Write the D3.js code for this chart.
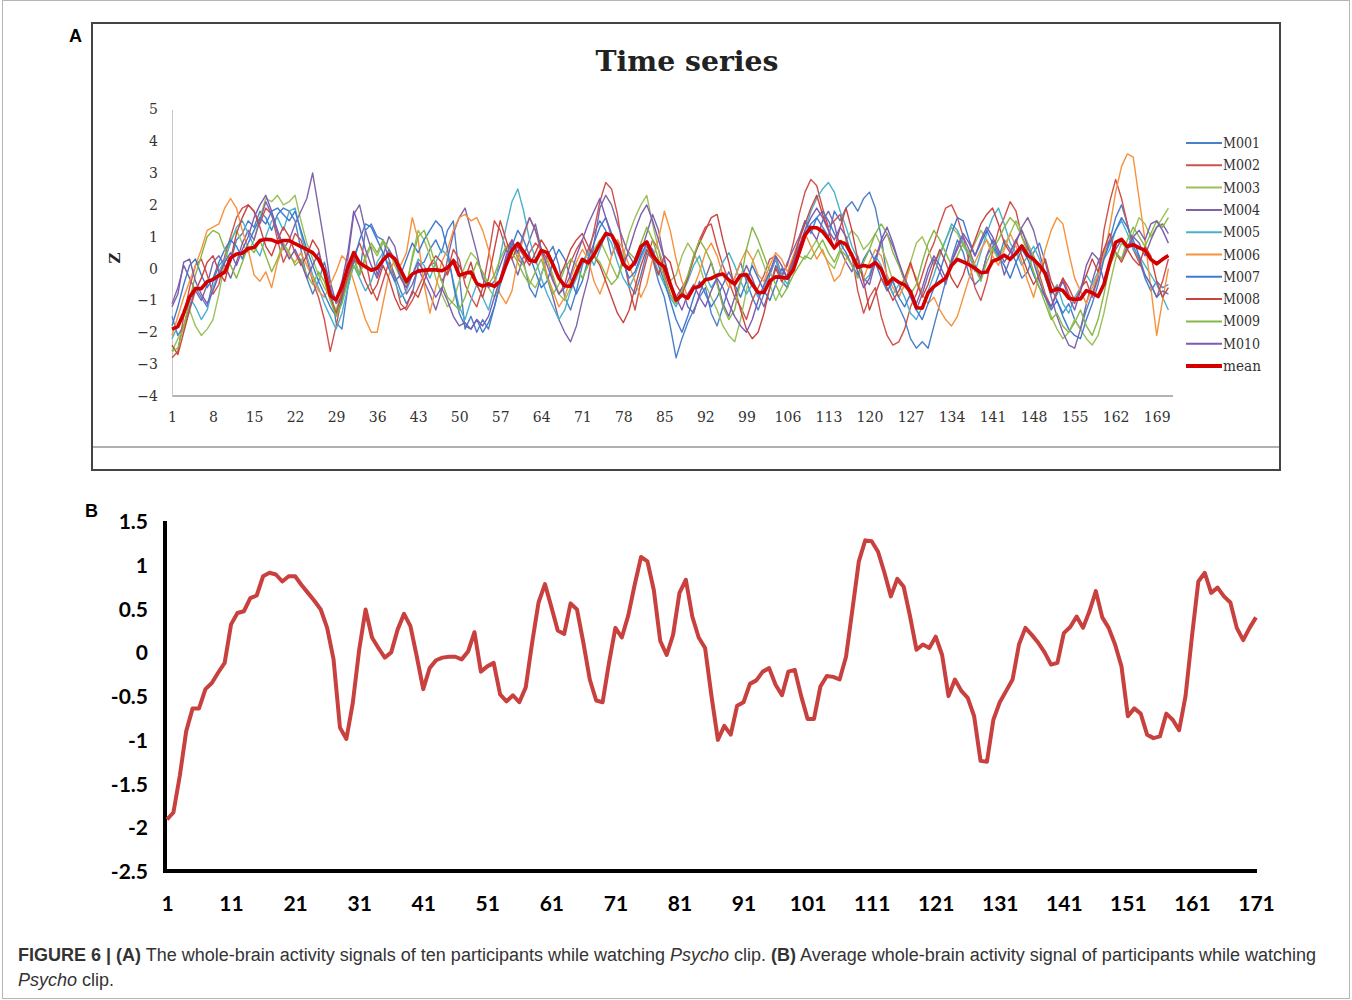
<!DOCTYPE html>
<html>
<head>
<meta charset="utf-8">
<script src="https://cdn.jsdelivr.net/npm/d3@7"></script>
<style>
  body { margin: 0; background: #fff; }
</style>
</head>
<body>
<div id="chart"></div>
<script>

// ---- data ----

var timePoints = d3.range(1, 172);

// average signal (panel B, also the "mean" line in panel A)
var meanSignal = [
  -1.9,-1.82,-1.4,-0.89,-0.63,-0.63,-0.41,-0.34,-0.22,-0.11,
  0.33,0.46,0.48,0.63,0.66,0.88,0.92,0.90,0.82,0.88,
  0.88,0.78,0.69,0.60,0.50,0.29,-0.07,-0.85,-0.98,-0.57,
  0.04,0.50,0.18,0.06,-0.05,0.01,0.27,0.45,0.31,-0.04,
  -0.41,-0.17,-0.08,-0.05,-0.04,-0.04,-0.07,0.02,0.24,-0.21,
  -0.15,-0.11,-0.47,-0.55,-0.48,-0.56,-0.39,0.12,0.58,0.79,
  0.53,0.26,0.22,0.57,0.50,0.12,-0.30,-0.54,-0.56,-0.11,
  0.29,0.18,0.43,0.78,1.10,1.05,0.72,0.14,-0.02,0.21,
  0.69,0.84,0.42,0.18,0.06,-0.49,-0.99,-0.83,-0.93,-0.60,
  -0.56,-0.35,-0.31,-0.21,-0.17,-0.36,-0.48,-0.21,-0.19,-0.49,
  -0.75,-0.75,-0.38,-0.26,-0.27,-0.30,-0.04,0.50,1.05,1.29,
  1.28,1.16,0.92,0.65,0.85,0.76,0.42,0.04,0.10,0.06,
  0.19,-0.02,-0.49,-0.30,-0.43,-0.51,-0.72,-1.23,-1.24,-0.76,
  -0.56,-0.43,-0.30,0.10,0.29,0.21,0.12,0.01,-0.13,-0.11,
  0.23,0.30,0.42,0.29,0.48,0.71,0.41,0.29,0.10,-0.15,
  -0.72,-0.63,-0.69,-0.93,-0.97,-0.95,-0.69,-0.76,-0.88,-0.49,
  0.19,0.82,0.92,0.69,0.75,0.65,0.58,0.29,0.15,0.29,0.41
];

var m001 = [
  -1.5,-2.1,-1.8,-1.2,-0.6,-0.9,-1.2,-0.4,0.1,0.3,
  0.2,0.9,1.1,1.5,1.3,1.8,1.6,1.2,1.7,1.9,
  1.8,1.5,0.6,-0.3,-0.8,-0.4,0.2,-0.5,-1.7,-1.9,
  -0.6,0.3,-0.2,1.2,1.4,1.0,0.9,0.3,-0.2,-0.7,
  -1.1,-0.8,0.1,0.2,0.6,0.9,0.5,1.2,1.5,-0.2,
  -1.9,-1.5,-2.0,-1.6,-1.9,-1.2,-0.4,0.3,0.8,0.5,
  0.2,-0.6,-0.9,-0.2,0.4,0.7,0.1,-0.9,-1.3,-0.7,
  0.1,0.6,1.1,1.5,1.2,0.4,0.9,0.3,-0.5,-0.8,
  -0.2,0.5,0.3,-0.4,-0.9,-1.8,-2.8,-2.2,-1.7,-1.3,
  -0.9,-0.6,-1.4,-1.8,-1.2,-0.6,-0.3,0.2,-0.4,-0.9,
  -1.3,-0.8,-0.2,0.3,-0.4,-0.6,0.2,0.9,1.5,1.1,
  1.6,1.3,1.0,1.8,1.5,1.9,2.1,1.8,2.2,2.4,
  1.9,1.0,-0.3,-0.8,-1.2,-1.6,-2.2,-2.5,-2.3,-2.5,
  -1.8,-1.1,-0.4,0.3,0.9,0.5,-0.2,-0.5,-0.3,0.4,
  0.7,0.3,0.9,0.6,0.2,-0.3,-0.1,0.5,0.8,0.2,
  -0.6,-1.0,-1.4,-1.1,-1.6,-1.9,-1.3,-0.8,-0.2,0.4,
  0.9,1.6,2.0,1.4,0.7,0.3,-0.3,-0.7,-0.4,-0.6,-0.5
];

var m002 = [
  -2.8,-2.6,-1.5,-0.6,0.1,0.3,-0.2,-0.8,-0.5,0.4,
  1.0,1.6,1.9,2.0,1.8,1.4,1.9,1.7,0.9,0.2,
  0.6,1.1,0.9,0.3,-0.4,-0.9,-1.6,-2.6,-1.8,-0.9,
  -0.3,0.4,0.8,0.3,-0.6,-1.0,-0.4,0.2,-0.3,-1.1,
  -1.3,-1.0,-0.6,-0.2,0.1,0.2,-0.4,-0.1,0.6,0.3,
  -0.5,-0.9,-1.2,-0.6,0.4,1.5,1.2,0.6,0.9,0.3,
  0.1,0.5,0.8,0.6,0.3,-0.3,-0.8,-0.5,0.2,0.6,
  0.9,0.4,1.2,2.1,2.7,2.5,1.7,0.5,-0.6,-1.3,
  -0.4,0.3,0.9,0.6,-0.2,-0.8,-1.1,-0.6,-0.3,0.3,
  0.9,1.3,1.4,0.7,0.1,-0.4,-0.9,-1.2,-1.6,-1.0,
  -0.6,-0.2,0.3,0.4,-0.2,0.1,0.8,1.7,2.4,2.8,
  2.6,1.9,1.3,1.5,1.7,0.9,0.4,-0.7,-1.4,-0.9,
  -0.6,-1.5,-2.1,-2.4,-2.3,-1.9,-1.2,-0.8,-0.2,0.4,
  0.8,1.4,1.9,2.0,1.6,1.0,0.2,-0.6,-1.0,-0.4,
  0.5,1.2,1.6,2.1,1.8,1.0,0.6,0.4,-0.2,-0.8,
  -1.2,-0.7,-0.3,-0.8,-1.1,-0.6,-0.4,-0.9,-0.3,1.2,
  2.1,2.8,2.2,1.4,0.6,0.2,-0.2,-0.5,-0.9,-0.4,0.3
];

var m003 = [
  -2.6,-2.2,-1.9,-1.3,-1.8,-2.1,-1.9,-1.6,-0.8,0.2,
  0.9,1.2,0.8,0.5,0.9,1.6,2.2,2.1,2.3,2.0,
  2.1,2.3,1.5,0.8,0.3,-0.2,-0.6,-0.9,-1.3,-0.7,
  0.1,0.4,-0.2,0.3,0.7,0.4,0.8,0.6,0.1,-0.3,
  -0.6,0.4,1.2,0.9,0.4,-0.3,-0.8,-1.2,-1.0,-0.4,
  0.1,0.5,0.3,-0.2,-0.6,-0.9,-0.5,0.2,0.6,0.4,
  0.1,-0.4,-0.6,-0.2,0.3,-0.2,-0.8,-1.0,-0.6,-0.1,
  0.3,0.2,0.6,0.9,0.5,0.1,-0.3,0.4,1.1,1.6,
  2.0,2.3,1.4,0.6,0.1,-0.4,-0.2,0.4,0.8,0.5,
  0.1,-0.5,-0.9,-1.3,-1.8,-2.1,-2.3,-1.6,-0.7,0.2,
  0.6,0.1,-0.5,-1.0,-0.6,-0.2,0.1,0.4,0.3,0.6,
  0.9,0.5,0.2,0.0,0.5,0.9,1.2,1.0,0.6,0.8,
  1.1,0.7,0.2,-0.4,-0.9,-0.5,0.2,0.8,1.0,0.6,
  0.1,0.5,0.9,1.3,1.1,0.7,0.4,0.8,1.2,0.9,
  0.6,0.3,0.7,1.1,1.5,1.2,0.8,0.4,-0.3,-0.9,
  -1.5,-1.9,-2.2,-2.0,-1.6,-1.9,-2.2,-2.4,-2.1,-1.4,
  -0.5,0.3,0.8,0.6,1.1,1.6,1.4,1.0,1.3,1.6,1.9
];

var m004 = [
  -1.1,-0.6,0.1,-0.3,-0.7,-1.0,-0.5,0.2,0.4,0.1,
  -0.3,0.2,0.8,1.2,0.9,1.5,2.1,1.7,1.1,0.6,
  0.9,1.4,1.8,2.2,3.0,1.9,0.8,-0.4,-1.1,-0.9,
  0.3,1.7,2.0,1.2,0.6,-0.2,0.4,1.0,0.7,-0.1,
  -0.8,-0.5,0.0,-0.4,-0.8,-1.3,-0.7,0.3,1.1,1.6,
  1.9,1.2,0.5,-0.3,-0.6,-0.4,0.1,0.6,0.3,-0.2,
  0.4,0.9,1.4,0.6,-0.3,-0.9,-1.6,-2.0,-2.3,-1.8,
  -1.0,-0.3,0.8,1.9,2.3,2.0,1.4,0.9,0.4,0.1,
  0.5,1.1,1.7,1.2,0.3,-0.5,-0.9,-0.6,-1.2,-1.4,
  -0.8,-0.3,0.2,-0.4,-1.1,-1.5,-0.9,-0.4,0.1,-0.3,
  -0.8,-1.2,-0.6,0.1,-0.3,0.2,0.6,1.0,1.5,1.2,
  0.9,1.5,1.8,1.4,0.6,0.2,-0.1,0.4,-0.3,-0.5,
  0.2,0.8,1.1,0.7,0.2,-0.4,-0.9,-1.3,-0.8,-0.2,
  0.3,-0.1,-0.5,0.2,0.6,1.0,0.6,0.1,-0.3,0.4,
  0.9,0.5,-0.2,0.3,0.8,1.3,1.6,1.2,0.5,-0.2,
  -0.9,-1.5,-2.0,-2.4,-2.5,-1.9,-1.1,-0.4,0.2,0.6,
  0.9,0.5,0.3,0.7,1.0,0.8,0.4,0.9,1.3,1.4,1.1
];

var m005 = [
  -2.2,-1.8,-1.4,-0.9,-1.2,-1.6,-1.3,-0.6,-0.1,0.3,
  0.8,1.3,1.5,1.1,0.7,0.4,1.0,1.5,1.6,1.2,
  1.8,1.9,1.1,0.4,-0.2,-0.6,-1.1,-1.5,-1.9,-1.4,
  -0.6,0.1,-0.3,-0.7,-0.4,0.2,0.5,0.1,-0.4,-0.9,
  -0.7,-0.2,0.3,0.1,-0.3,0.2,0.6,0.4,-0.4,-1.2,
  -1.6,-1.0,-0.5,-0.9,-1.3,-0.6,0.4,1.3,2.1,2.5,
  1.8,0.9,0.3,-0.3,-0.8,-1.2,-1.6,-1.3,-0.7,-0.3,
  0.2,0.5,0.1,0.6,1.1,0.8,0.2,-0.3,-0.6,-0.2,
  0.3,0.7,0.4,-0.1,-0.5,-0.9,-1.2,-0.8,-0.4,0.1,
  0.4,-0.2,-0.6,-0.3,0.2,0.5,0.1,-0.4,-0.8,-0.5,
  -0.9,-0.6,-0.1,0.3,-0.2,-0.5,0.1,0.6,1.2,1.8,
  2.2,2.5,2.7,2.4,1.8,1.3,0.7,0.3,-0.4,-0.2,
  0.4,0.1,-0.4,-0.8,-0.5,-0.9,-1.4,-1.6,-1.2,-0.7,
  -0.2,0.4,0.9,1.4,1.2,0.8,0.4,-0.1,0.5,1.1,
  1.6,1.9,1.4,0.8,0.5,0.1,0.4,0.7,0.3,-0.3,
  -0.8,-0.5,-1.1,-1.4,-0.9,-0.6,-0.2,-0.5,-0.1,0.3,
  0.6,1.2,1.5,1.1,0.6,0.4,0.1,-0.2,-0.5,-0.9,-1.3
];

var m006 = [
  -2.1,-1.5,-0.9,-0.4,0.1,0.6,1.2,1.3,1.4,1.9,
  2.2,1.9,1.2,0.6,-0.2,-0.4,-0.1,-0.6,0.2,0.7,
  0.4,0.2,0.5,0.1,-0.3,-0.7,-0.9,-0.5,-0.1,0.4,
  0.2,-0.4,-1.0,-1.6,-2.0,-2.0,-1.1,-0.2,0.3,0.1,
  0.5,1.6,0.9,-0.5,-1.4,-0.6,0.2,0.6,1.2,1.6,
  1.7,1.5,1.6,1.2,0.6,-0.3,-0.8,-1.1,-0.7,0.3,
  1.0,1.6,1.2,0.5,-0.2,-0.7,-1.2,-0.9,-0.3,0.2,
  0.6,0.3,-0.4,-0.8,-0.3,0.4,0.9,0.6,0.1,-0.4,
  -0.9,-0.5,0.3,0.9,1.8,1.2,0.3,-0.4,-0.9,-0.6,
  -0.1,0.5,0.8,0.4,-0.2,-0.6,-0.3,0.2,0.6,0.3,
  -0.2,-0.4,0.1,0.5,0.3,-0.1,0.4,0.9,1.1,0.7,
  0.3,0.6,0.1,-0.4,-0.2,0.3,0.5,0.1,-0.3,0.2,
  0.6,0.4,-0.2,-0.6,-0.9,-0.5,0.1,-0.3,-0.8,-1.1,
  -0.9,-1.3,-1.6,-1.8,-1.5,-0.9,-0.3,0.2,0.6,0.9,
  0.4,0.1,0.6,1.1,0.7,0.2,-0.4,-0.9,-0.2,0.6,
  1.2,1.6,1.4,0.5,-0.3,-0.7,-1.1,-0.6,-0.2,0.4,
  1.3,2.4,3.2,3.6,3.5,2.2,0.9,-0.6,-2.1,-1.0,0.0
];

var m007 = [
  -1.8,-1.2,-0.5,0.1,0.3,-0.2,-0.6,-0.3,0.2,0.6,
  0.9,0.7,0.3,0.8,1.2,1.6,1.4,1.8,1.9,1.7,
  1.5,1.8,1.2,0.6,0.1,-0.4,-0.8,-1.2,-1.5,-1.0,
  -0.4,0.2,0.9,1.4,1.3,0.9,0.5,0.0,-0.4,-0.2,
  0.3,0.8,0.5,0.9,1.2,1.5,1.3,0.6,-0.5,-1.4,
  -1.8,-1.9,-1.6,-2.0,-1.7,-1.2,-0.5,0.2,0.7,1.2,
  0.9,0.4,-0.1,-0.6,-0.4,0.2,0.6,0.3,-0.3,-0.8,
  -0.4,0.3,0.8,1.3,1.6,1.1,0.7,0.2,-0.3,-0.1,
  0.4,0.8,0.6,0.1,-0.4,-1.0,-1.6,-2.0,-1.5,-0.9,
  -0.4,-0.8,-1.2,-0.9,-0.5,-0.1,-0.5,-0.9,-0.4,0.1,
  -0.3,-0.7,-1.0,-0.5,0.0,-0.3,0.2,0.7,1.1,1.4,
  1.6,1.8,1.5,1.1,0.8,0.5,0.1,-0.2,0.3,0.6,
  0.2,-0.3,-0.7,-0.4,-0.9,-1.2,-0.8,-1.3,-1.6,-1.1,
  -0.6,-0.1,0.5,1.1,1.6,1.5,0.9,0.4,0.8,1.2,
  0.8,0.4,0.1,-0.3,0.2,0.6,0.3,-0.2,-0.6,-0.9,
  -1.3,-1.0,-1.5,-1.9,-2.1,-2.2,-1.6,-1.1,-0.5,0.3,
  0.8,1.2,1.6,1.3,0.9,0.4,-0.2,-0.5,-0.9,-0.7,-0.8
];

var m008 = [
  -2.4,-2.7,-2.0,-1.3,-0.7,-0.3,0.2,0.4,-0.1,-0.4,
  0.3,1.1,1.6,2.0,1.8,1.3,0.7,0.4,0.9,1.3,
  1.0,0.5,0.1,0.4,0.9,0.6,-0.2,-0.9,-1.4,-0.8,
  -0.2,0.3,0.1,-0.4,-0.8,-0.5,0.1,-0.3,-0.9,-1.3,
  -1.2,-0.7,-0.9,-0.4,0.1,0.4,0.2,-0.2,0.3,0.1,
  -0.3,0.2,-0.5,-0.9,-0.3,0.6,1.5,0.9,0.3,0.7,
  0.4,0.1,0.5,0.9,0.6,0.2,-0.3,0.1,0.6,0.9,
  1.1,0.7,0.4,0.1,-0.4,-0.9,-1.4,-1.7,-1.3,-0.6,
  0.1,0.6,0.3,-0.2,0.4,0.2,-0.5,-0.8,-0.3,0.4,
  0.8,1.2,1.6,1.7,0.9,0.2,-0.6,-1.3,-1.9,-2.2,
  -2.0,-1.4,-0.6,0.0,-0.4,-0.2,0.3,0.9,1.4,1.9,
  2.3,1.7,1.2,0.6,1.3,1.9,1.2,0.3,-0.4,-1.3,
  -0.8,-0.3,-0.6,-1.0,-0.7,-0.3,0.2,-0.4,-0.9,-0.5,
  0.1,0.6,0.2,-0.3,-0.6,-0.2,0.4,0.9,1.4,1.7,
  1.9,1.4,0.8,0.5,0.9,0.4,-0.1,-0.5,-0.2,0.3,
  -0.4,-0.8,-0.3,-0.6,-1.0,-0.7,-0.2,0.3,-0.1,0.6,
  1.1,0.5,0.2,0.6,0.3,0.1,0.7,0.4,-0.4,-0.9,-0.6
];

var m009 = [
  -2.6,-2.5,-1.8,-1.0,-0.2,0.4,1.0,1.2,1.1,0.6,
  0.1,-0.3,0.2,0.7,0.5,0.9,0.4,-0.1,0.3,0.8,
  0.5,0.1,0.3,-0.2,-0.5,-0.1,-0.4,-1.0,-1.5,-1.1,
  -0.4,0.1,-0.2,0.4,0.8,0.5,0.9,0.6,0.2,-0.2,
  -0.5,0.3,1.0,1.2,0.7,0.1,-0.4,-0.9,-1.1,-1.3,
  -0.9,-0.3,0.2,-0.1,-0.5,-0.2,0.3,0.7,0.5,0.2,
  -0.2,-0.5,-0.1,0.3,-0.3,-0.8,-0.5,0.0,0.3,0.1,
  -0.3,0.1,0.4,0.2,-0.2,-0.5,-0.3,0.2,0.5,0.3,
  0.8,1.3,0.9,0.3,-0.3,-0.8,-1.1,-0.7,-0.2,0.4,
  0.9,0.6,0.2,-0.5,-1.2,-1.6,-1.3,-0.4,0.6,1.3,
  0.9,0.4,-0.1,-0.5,-0.9,-0.6,-0.2,0.1,0.4,0.3,
  0.6,0.9,0.5,0.2,0.6,0.4,0.1,-0.3,0.2,0.6,
  1.1,1.4,1.1,0.5,0.1,-0.4,-0.8,-0.5,0.2,0.8,
  1.2,0.9,0.5,0.1,0.4,0.8,0.5,0.0,-0.4,0.2,
  0.6,0.9,1.3,1.6,1.4,1.0,0.5,-0.1,-0.6,-1.1,
  -1.6,-1.4,-1.8,-2.0,-1.7,-1.3,-1.8,-2.1,-1.6,-0.8,
  0.1,0.5,0.3,0.9,1.3,1.0,0.7,1.1,1.5,1.3,1.6
];

var m010 = [
  -1.2,-0.8,0.2,0.3,-0.4,-0.8,-1.1,-0.7,-0.2,0.2,
  0.5,0.1,0.6,1.0,1.6,2.0,2.3,1.8,1.2,0.7,
  0.3,0.6,0.2,-0.3,0.1,0.5,-0.1,-0.7,-1.0,-0.4,
  0.5,1.8,1.3,0.6,0.1,-0.3,0.2,0.6,0.3,-0.3,
  -0.6,-0.2,0.2,-0.1,-0.5,-0.9,-0.6,-1.0,-1.5,-1.8,
  -1.7,-1.9,-1.6,-1.8,-1.5,-0.9,-0.3,0.4,0.9,0.5,
  1.1,1.6,1.2,0.6,0.1,-0.4,-0.8,-0.6,-0.2,0.4,
  0.9,1.4,1.8,2.2,1.6,1.0,0.5,0.1,0.6,1.2,
  1.7,2.0,1.5,0.9,0.3,-0.4,-0.9,-1.3,-0.8,-0.5,
  -0.9,-1.2,-0.7,-0.3,-0.6,-1.1,-1.5,-1.8,-2.0,-1.6,
  -1.0,-0.5,-0.1,0.4,0.1,-0.3,0.2,0.7,1.2,1.6,
  1.9,1.6,1.2,0.9,1.3,1.0,0.4,-0.1,-0.6,-0.3,
  0.3,0.9,1.3,0.8,0.2,-0.3,-0.7,-1.1,-0.6,0.0,
  0.4,0.1,-0.3,0.2,0.7,1.1,0.8,0.4,0.9,1.3,
  1.0,0.6,0.2,0.5,0.9,1.2,0.7,0.2,-0.4,-0.9,
  -1.2,-0.8,-0.4,-0.9,-1.3,-0.7,0.1,0.5,0.3,-0.4,
  0.2,0.6,0.9,0.6,1.0,1.2,0.9,1.4,1.5,1.2,0.8
];

var seriesNames = ["M001", "M002", "M003", "M004", "M005", "M006", "M007", "M008", "M009", "M010"];
var seriesValues = [m001, m002, m003, m004, m005, m006, m007, m008, m009, m010];
var seriesColors = ["#4a7fc9", "#d0504c", "#9bc05a", "#8064a8", "#4bb0cc",
                    "#f7923d", "#3f79cf", "#c8453f", "#85b846", "#7b5bb3"];

var panelAXTicks = d3.range(1, 170, 7);
var panelAYTicks = d3.range(-4, 6);
var panelBXTicks = d3.range(1, 172, 10);
var panelBYTicks = [-2.5, -2, -1.5, -1, -0.5, 0, 0.5, 1, 1.5];

// ---- stage ----

var svgWidth = 1352;
var svgHeight = 1000;

var svg = d3.select("#chart")
  .append("svg")
  .attr("width", svgWidth)
  .attr("height", svgHeight);

svg.append("rect")
  .attr("x", 2.5).attr("y", 0.5)
  .attr("width", svgWidth - 5).attr("height", svgHeight - 2)
  .attr("fill", "none")
  .attr("stroke", "#b5b5b5");

// panel letters
svg.append("text").attr("x", 69).attr("y", 42).text("A")
  .attr("font-family", "Liberation Sans, Arial, sans-serif")
  .attr("font-weight", "bold").attr("font-size", "18px");
svg.append("text").attr("x", 85).attr("y", 517).text("B")
  .attr("font-family", "Liberation Sans, Arial, sans-serif")
  .attr("font-weight", "bold").attr("font-size", "18px");

// ---- panel A ----

var serif = "DejaVu Serif, Liberation Serif, serif";

var panelA = svg.append("g");

panelA.append("rect")
  .attr("x", 92).attr("y", 23)
  .attr("width", 1188).attr("height", 447)
  .attr("fill", "#fff")
  .attr("stroke", "#444")
  .attr("stroke-width", 2);

panelA.append("line")
  .attr("x1", 93).attr("x2", 1279)
  .attr("y1", 447).attr("y2", 447)
  .attr("stroke", "#b0b0b0")
  .attr("stroke-width", 2);

panelA.append("text")
  .attr("x", 687).attr("y", 71)
  .attr("text-anchor", "middle")
  .attr("font-family", serif)
  .attr("font-weight", "bold")
  .attr("font-size", "27px")
  .attr("fill", "#222")
  .attr("textLength", 183)
  .attr("lengthAdjust", "spacingAndGlyphs")
  .text("Time series");

var xA = d3.scaleLinear().domain([1, 171]).range([172, 1168.4]);
var yA = d3.scaleLinear().domain([-4, 5]).range([396, 109.3]);

var xAxisA = panelA.append("g")
  .attr("transform", "translate(0, 396)")
  .call(d3.axisBottom(xA).tickValues(panelAXTicks).tickSize(0).tickPadding(16));
xAxisA.select(".domain").attr("stroke", "#b3b3b3").attr("stroke-width", 2)
  .attr("d", "M172,0H1173");

var yAxisA = panelA.append("g")
  .attr("transform", "translate(172, 0)")
  .call(d3.axisLeft(yA).tickValues(panelAYTicks).tickSize(0).tickPadding(14));
yAxisA.select(".domain").attr("stroke", "#c8c8c8").attr("stroke-width", 1);

panelA.selectAll(".tick text")
  .attr("font-family", serif)
  .attr("font-size", "14px")
  .attr("fill", "#333");

panelA.append("text")
  .attr("transform", "translate(120, 258) rotate(-90)")
  .attr("text-anchor", "middle")
  .attr("font-family", serif)
  .attr("font-weight", "bold")
  .attr("font-size", "15px")
  .attr("fill", "#222")
  .text("Z");

var lineA = d3.line()
  .x((d, i) => xA(timePoints[i]))
  .y(d => yA(d));

panelA.selectAll(".subject")
  .data(seriesValues)
  .enter()
  .append("path")
  .classed("subject", true)
  .attr("d", d => lineA(d))
  .attr("fill", "none")
  .attr("stroke", (d, i) => seriesColors[i])
  .attr("stroke-width", 1.4)
  .attr("stroke-linejoin", "round");

panelA.append("path")
  .attr("d", lineA(meanSignal))
  .attr("fill", "none")
  .attr("stroke", "#d40000")
  .attr("stroke-width", 3.6)
  .attr("stroke-linejoin", "round");

// legend
var legendNames = seriesNames.concat(["mean"]);
var legendColors = seriesColors.concat(["#d40000"]);

var legend = panelA.selectAll(".legendItem")
  .data(legendNames)
  .enter()
  .append("g")
  .classed("legendItem", true)
  .attr("transform", (d, i) => `translate(1186, ${143 + i * 22.3})`);

legend.append("line")
  .attr("x1", 0).attr("x2", 36)
  .attr("stroke", (d, i) => legendColors[i])
  .attr("stroke-width", (d, i) => i === 10 ? 4 : 2);

legend.append("text")
  .attr("x", 37).attr("y", 5)
  .attr("font-family", serif)
  .attr("font-size", "14px")
  .attr("fill", "#333")
  .attr("textLength", (d, i) => i === 10 ? 38 : 37)
  .attr("lengthAdjust", "spacingAndGlyphs")
  .text(d => d);

// ---- panel B ----

var panelB = svg.append("g");

var xB = d3.scaleLinear().domain([1, 171]).range([167, 1256]);
var yB = d3.scaleLinear().domain([-2.5, 1.5]).range([872, 522]);

var xAxisB = panelB.append("g")
  .attr("transform", "translate(0, 871)")
  .call(d3.axisBottom(xB).tickValues(panelBXTicks).tickSize(0).tickPadding(25));
xAxisB.select(".domain").attr("stroke", "#000").attr("stroke-width", 4)
  .attr("d", "M163,0H1257");

var yAxisB = panelB.append("g")
  .attr("transform", "translate(165, 0)")
  .call(d3.axisLeft(yB).tickValues(panelBYTicks).tickSize(0).tickPadding(17)
    .tickFormat(d => String(d)));
yAxisB.select(".domain").attr("stroke", "#000").attr("stroke-width", 4)
  .attr("d", "M0,521V873");

panelB.selectAll(".tick text")
  .attr("font-family", "Lato, Open Sans, sans-serif")
  .attr("font-weight", "bold")
  .attr("font-size", "21px")
  .attr("fill", "#000");

var lineB = d3.line()
  .x((d, i) => xB(timePoints[i]))
  .y(d => yB(d));

panelB.append("path")
  .attr("d", lineB(meanSignal))
  .attr("fill", "none")
  .attr("stroke", "#c8413f")
  .attr("stroke-width", 4)
  .attr("stroke-linejoin", "round");

// ---- caption ----

var caption = svg.append("g")
  .attr("font-family", "Liberation Sans, Arial, sans-serif")
  .attr("font-size", "18px")
  .attr("fill", "#333");

var cap1 = caption.append("text").attr("x", 18).attr("y", 961);
cap1.append("tspan").attr("font-weight", "bold").text("FIGURE 6 | (A)");
cap1.append("tspan").text(" The whole-brain activity signals of ten participants while watching ");
cap1.append("tspan").attr("font-style", "italic").text("Psycho");
cap1.append("tspan").text(" clip. ");
cap1.append("tspan").attr("font-weight", "bold").text("(B)");
cap1.append("tspan").text(" Average whole-brain activity signal of participants while watching");

var cap2 = caption.append("text").attr("x", 18).attr("y", 986);
cap2.append("tspan").attr("font-style", "italic").text("Psycho");
cap2.append("tspan").text(" clip.");

</script>
</body>
</html>
